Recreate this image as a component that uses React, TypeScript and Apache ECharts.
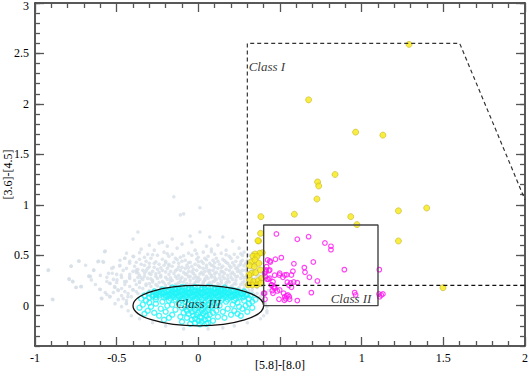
import React, { useEffect, useRef } from "react";
import * as echarts from "echarts";

const xTickLabels = ["-1", "-0.5", "0", "", "1", "1.5", "2"];
const yMajorTicks = [0, 0.5, 1, 1.5, 2, 2.5, 3];
const xAxisTitle = "[5.8]-[8.0]";
const yAxisTitle = "[3.6]-[4.5]";

const greyPoints: number[][] = [
  [-0.15,1.08],[0.01,0.97],[-0.11,0.90],[-0.09,0.91],[-0.37,0.73],[0.01,0.73],[0.07,0.68],[0.15,0.68],[-0.05,0.69],[-0.40,0.66],[-0.16,0.66],[-0.04,0.63],[-0.24,0.62],[-0.22,0.63],[0.21,0.64],[-0.30,0.60],[-0.10,0.61],[0.05,0.59],[0.12,0.60],[-0.19,0.59],
  [-0.57,0.54],[-0.35,0.56],[-0.27,0.55],[-0.13,0.57],[-0.02,0.55],[0.08,0.56],[0.17,0.55],[0.25,0.57],
  [-0.44,0.52],[-0.31,0.51],[-0.21,0.53],[-0.16,0.51],[-0.06,0.52],[0.03,0.53],[0.10,0.51],[0.14,0.52],[0.22,0.51],[0.28,0.53],
  [-0.40,0.49],[-0.33,0.48],[-0.25,0.50],[-0.18,0.49],[-0.11,0.48],[-0.04,0.50],[0.00,0.48],[0.06,0.49],[0.11,0.47],[0.19,0.49],[0.24,0.48],[0.31,0.50],
  [-0.45,0.47],[-0.36,0.46],[-0.29,0.47],[-0.22,0.46],[-0.14,0.47],[-0.08,0.45],[-0.01,0.46],[0.04,0.47],[0.09,0.45],[0.15,0.46],[0.20,0.47],[0.27,0.45],[0.33,0.46],
  [-0.73,0.44],[-0.61,0.44],[-0.58,0.43],[-0.42,0.44],[-0.38,0.43],[-0.32,0.44],[-0.27,0.42],[-0.20,0.44],[-0.15,0.43],[-0.10,0.44],[-0.05,0.43],[0.02,0.44],[0.07,0.42],[0.12,0.44],[0.17,0.43],[0.23,0.44],[0.29,0.42],
  [-0.35,0.41],[-0.30,0.42],[-0.24,0.41],[-0.18,0.41],[-0.12,0.42],[-0.07,0.40],[-0.02,0.41],[0.03,0.42],[0.08,0.40],[0.13,0.41],[0.18,0.42],[0.22,0.40],[0.26,0.41],[0.32,0.42],
  [-0.78,0.39],[-0.48,0.40],[-0.39,0.39],[-0.33,0.40],[-0.27,0.38],[-0.21,0.40],[-0.16,0.39],[-0.10,0.38],[-0.04,0.39],[0.01,0.38],[0.05,0.40],[0.10,0.38],[0.15,0.39],[0.20,0.38],[0.25,0.40],[0.30,0.38],[0.35,0.39],
  [-0.53,0.37],[-0.44,0.37],[-0.37,0.36],[-0.31,0.37],[-0.25,0.36],[-0.19,0.37],[-0.13,0.36],[-0.08,0.37],[-0.03,0.36],[0.03,0.37],[0.07,0.35],[0.12,0.37],[0.17,0.36],[0.23,0.37],[0.27,0.35],[0.33,0.36],
  [-0.92,0.35],[-0.64,0.35],[-0.46,0.35],[-0.40,0.34],[-0.34,0.35],[-0.28,0.34],[-0.22,0.35],[-0.17,0.34],[-0.11,0.35],[-0.06,0.34],[-0.01,0.35],[0.04,0.34],[0.09,0.35],[0.14,0.34],[0.19,0.35],[0.24,0.34],[0.29,0.35],[0.34,0.34],
  [-0.38,0.33],[-0.30,0.32],[-0.24,0.33],[-0.15,0.32],[-0.09,0.33],[-0.03,0.32],[0.02,0.33],[0.07,0.32],[0.11,0.33],[0.16,0.32],[0.21,0.33],[0.26,0.32],[0.31,0.33],
  [-0.55,0.32],[-0.50,0.31],[-0.42,0.31],[-0.36,0.30],[-0.29,0.31],[-0.23,0.30],[-0.18,0.31],[-0.12,0.30],[-0.07,0.31],[-0.02,0.30],[0.03,0.31],[0.08,0.30],[0.13,0.31],[0.18,0.30],[0.22,0.31],[0.27,0.30],[0.32,0.31],[0.36,0.30],
  [-0.33,0.29],[-0.26,0.29],[-0.20,0.28],[-0.14,0.29],[-0.10,0.28],[-0.05,0.29],[0.00,0.28],[0.05,0.29],[0.10,0.28],[0.15,0.29],[0.20,0.28],[0.24,0.29],[0.29,0.28],
  [-0.67,0.29],[-0.47,0.28],[-0.42,0.27],[-0.37,0.28],[-0.31,0.27],[-0.25,0.27],[-0.19,0.26],[-0.13,0.27],[-0.08,0.26],[-0.03,0.27],[0.01,0.26],[0.06,0.27],[0.11,0.26],[0.16,0.27],[0.21,0.26],[0.26,0.27],[0.30,0.26],[0.35,0.27],
  [-0.52,0.26],[-0.39,0.25],[-0.34,0.26],[-0.28,0.25],[-0.22,0.24],[-0.16,0.25],[-0.11,0.24],[-0.05,0.25],[0.00,0.24],[0.04,0.25],[0.09,0.24],[0.14,0.25],[0.18,0.24],[0.23,0.25],[0.28,0.24],[0.33,0.25],
  [-0.79,0.26],[-0.56,0.24],[-0.50,0.23],[-0.44,0.24],[-0.36,0.23],[-0.30,0.22],[-0.24,0.23],[-0.18,0.22],[-0.12,0.23],[-0.07,0.22],[-0.02,0.23],[0.03,0.22],[0.07,0.23],[0.12,0.22],[0.17,0.23],[0.22,0.22],[0.27,0.23],[0.31,0.22],[0.36,0.23],
  [-0.77,0.24],[-0.66,0.29],[-0.54,0.22],[-0.45,0.21],[-0.38,0.21],[-0.32,0.20],[-0.26,0.21],[-0.20,0.20],[-0.14,0.21],[-0.08,0.20],[-0.03,0.21],[0.02,0.20],[0.08,0.21],[0.13,0.20],[0.17,0.21],[0.21,0.20],[0.26,0.21],[0.31,0.20],[0.35,0.21],
  [-0.42,0.19],[-0.36,0.18],[-0.29,0.19],[-0.23,0.18],[-0.17,0.19],[-0.11,0.19],[0.11,0.19],[0.16,0.18],[0.20,0.19],[0.25,0.18],[0.30,0.19],
  [-0.72,0.19],[-0.51,0.18],[-0.47,0.17],[-0.40,0.16],[-0.34,0.17],[-0.27,0.16],[0.24,0.16],[0.28,0.17],[0.33,0.16],[0.36,0.18],
  [-0.75,0.18],[-0.60,0.16],[-0.49,0.15],[-0.45,0.14],[-0.38,0.14],[-0.30,0.15],[0.29,0.14],[0.33,0.13],[0.31,0.15],
  [-0.52,0.13],[-0.43,0.12],[-0.37,0.12],[0.36,0.12],[0.34,0.11],[0.39,0.11],
  [-0.56,0.11],[-0.47,0.10],[-0.41,0.09],[0.38,0.09],
  [-0.54,0.09],[-0.46,0.07],[-0.59,0.07],[-0.49,0.06],[-0.89,0.06],[-0.44,0.05],
  [-0.44,0.02],[-0.51,0.02],[0.41,0.02],[-0.47,-0.01],[0.42,-0.01],[-0.43,-0.05],[0.42,-0.05],[0.42,-0.07],[-0.41,-0.10],[0.40,-0.10],[-0.36,-0.13],[0.38,-0.13],[-0.28,-0.17],[0.30,-0.17],[-0.20,-0.20],[0.22,-0.20],[-0.09,-0.23],[0.06,-0.23],[0.15,-0.22],
  [-0.615,0.436],[-0.584,0.436],[-0.641,0.354],[-0.67,0.294],[-0.655,0.255],[-0.604,0.162],[-0.594,0.073],[-0.543,0.089],[-0.527,0.321],[-0.56,0.281],[-0.543,0.222],[-0.513,0.188],[-0.482,0.393],[-0.451,0.47],[-0.421,0.42],[-0.396,0.486],[-0.421,0.287],[-0.472,0.304],[-0.451,0.238],[-0.492,0.156],[-0.498,0.255],[-0.38,0.354],[-0.36,0.238],[-0.329,0.321],[-0.4,0.156],[-0.431,0.089],[-0.441,0.024],[-0.768,0.238],[-0.747,0.182],[-0.716,0.188],[-0.894,0.063],[-0.778,0.393],[-0.792,0.265],[-0.917,0.354],[-0.733,0.443],[-0.574,0.535],
  [0.30,0.45],[0.34,0.41],[0.37,0.30],[0.38,0.25],[0.36,0.47],[0.40,0.33],[0.38,0.42],[0.27,0.50],[0.33,0.52],[0.39,0.20],[0.43,0.15],[0.41,0.28],
  [-0.32,0.215],[-0.28,0.235],[-0.25,0.195],[-0.21,0.225],[-0.17,0.245],[-0.13,0.215],[-0.09,0.235],[-0.05,0.215],[-0.01,0.245],[0.03,0.235],[0.06,0.215],[0.10,0.245],[0.14,0.225],[0.19,0.235],[0.23,0.215],[0.28,0.205],[0.33,0.225],
  [-0.35,0.275],[-0.29,0.265],[-0.23,0.285],[-0.17,0.275],[-0.11,0.265],[-0.06,0.285],[-0.01,0.275],[0.04,0.265],[0.08,0.285],[0.13,0.275],[0.18,0.265],[0.23,0.285],[0.28,0.275],[0.33,0.265],
  [-0.37,0.325],[-0.32,0.345],[-0.26,0.315],[-0.20,0.335],[-0.14,0.345],[-0.08,0.315],[-0.04,0.335],[0.01,0.315],[0.06,0.345],[0.10,0.315],[0.15,0.335],[0.20,0.315],[0.25,0.345],[0.30,0.325],
  [-0.30,0.385],[-0.23,0.375],[-0.18,0.395],[-0.12,0.385],[-0.06,0.375],[0.00,0.395],[0.05,0.375],[0.09,0.395],[0.14,0.375],[0.19,0.395],[0.24,0.375],[0.28,0.395],
  [-0.26,0.435],[-0.20,0.425],[-0.13,0.455],[-0.06,0.425],[0.00,0.435],[0.05,0.455],[0.10,0.425],[0.16,0.445],[0.21,0.425],[0.26,0.435],
  [-0.28,0.505],[-0.19,0.515],[-0.09,0.495],[-0.01,0.515],[0.08,0.535],[0.17,0.505],[0.26,0.515],[-0.36,0.525],[-0.48,0.45],[-0.52,0.38],[-0.60,0.30],[-0.63,0.21],[-0.57,0.13],[-0.69,0.40]
];

const cyanPoints: number[][] = [
  [-0.16,0.18],[-0.12,0.17],[-0.08,0.18],[-0.04,0.17],[0.00,0.18],[0.04,0.17],[0.08,0.18],[0.12,0.17],[0.16,0.18],
  [-0.22,0.16],[-0.18,0.15],[-0.14,0.16],[-0.10,0.15],[-0.06,0.16],[-0.02,0.15],[0.02,0.16],[0.06,0.15],[0.10,0.16],[0.14,0.15],[0.18,0.16],[0.22,0.15],
  [-0.27,0.14],[-0.23,0.13],[-0.19,0.14],[-0.15,0.13],[-0.11,0.14],[-0.07,0.13],[-0.03,0.14],[0.01,0.13],[0.05,0.14],[0.09,0.13],[0.13,0.14],[0.17,0.13],[0.21,0.14],[0.25,0.13],[0.28,0.14],
  [-0.30,0.12],[-0.26,0.11],[-0.22,0.12],[-0.18,0.11],[-0.14,0.12],[-0.10,0.11],[-0.06,0.12],[-0.02,0.11],[0.02,0.12],[0.06,0.11],[0.10,0.12],[0.14,0.11],[0.18,0.12],[0.22,0.11],[0.26,0.12],[0.30,0.11],
  [-0.33,0.10],[-0.28,0.09],[-0.24,0.10],[-0.20,0.09],[-0.16,0.10],[-0.12,0.09],[-0.08,0.10],[-0.04,0.09],[0.00,0.10],[0.04,0.09],[0.08,0.10],[0.12,0.09],[0.16,0.10],[0.20,0.09],[0.24,0.10],[0.28,0.09],[0.32,0.10],
  [-0.35,0.07],[-0.30,0.08],[-0.21,0.08],[-0.17,0.07],[-0.13,0.08],[-0.09,0.07],[-0.05,0.08],[-0.01,0.07],[0.03,0.08],[0.07,0.07],[0.11,0.08],[0.15,0.07],[0.19,0.08],[0.23,0.07],[0.27,0.08],[0.31,0.07],[0.35,0.06],
  [-0.32,0.05],[-0.26,0.06],[-0.18,0.05],[-0.14,0.06],[-0.10,0.05],[-0.06,0.06],[-0.02,0.05],[0.02,0.06],[0.06,0.05],[0.10,0.06],[0.14,0.05],[0.18,0.06],[0.22,0.05],[0.28,0.05],[0.33,0.04],
  [-0.14,0.175],[-0.10,0.185],[-0.06,0.175],[-0.02,0.185],[0.02,0.175],[0.06,0.185],[0.10,0.175],[0.14,0.165],
  [-0.20,0.155],[-0.16,0.145],[-0.12,0.155],[-0.08,0.145],[-0.04,0.155],[0.00,0.145],[0.04,0.155],[0.08,0.145],[0.12,0.155],[0.16,0.145],[0.20,0.155],[0.24,0.145],
  [-0.25,0.125],[-0.21,0.135],[-0.17,0.125],[-0.13,0.135],[-0.09,0.125],[-0.05,0.135],[-0.01,0.125],[0.03,0.135],[0.07,0.125],[0.11,0.135],[0.15,0.125],[0.19,0.135],[0.23,0.125],[0.27,0.115],
  [-0.28,0.105],[-0.24,0.115],[-0.20,0.105],[-0.16,0.115],[-0.12,0.105],[-0.08,0.115],[-0.04,0.105],[0.00,0.115],[0.04,0.105],[0.08,0.115],[0.12,0.105],[0.16,0.115],[0.20,0.105],[0.24,0.115],[0.29,0.105],
  [-0.26,0.085],[-0.19,0.09],[-0.15,0.085],[-0.11,0.09],[-0.07,0.085],[-0.03,0.09],[0.01,0.085],[0.05,0.09],[0.09,0.085],[0.13,0.09],[0.17,0.085],[0.21,0.09],[0.25,0.085],
  [-0.30,0.03],[-0.22,0.04],[-0.12,0.03],[-0.08,0.04],[-0.04,0.03],[0.00,0.04],[0.04,0.03],[0.08,0.04],[0.12,0.03],[0.17,0.04],[0.24,0.03],[0.31,0.02],
  [-0.34,0.01],[-0.26,0.02],[-0.16,0.01],[-0.06,0.02],[-0.02,0.01],[0.02,0.02],[0.06,0.01],[0.10,0.02],[0.21,0.01],[0.29,0.00],
  [-0.29,-0.01],[-0.19,0.00],[-0.08,-0.01],[-0.04,0.00],[0.00,-0.01],[0.04,0.00],[0.08,-0.01],[0.13,0.00],[0.25,-0.01],[0.33,-0.02],
  [-0.36,-0.02],[-0.23,-0.03],[-0.10,-0.02],[-0.05,-0.03],[-0.01,-0.02],[0.03,-0.03],[0.07,-0.02],[0.18,-0.03],[0.27,-0.03],
  [-0.31,-0.05],[-0.14,-0.04],[-0.07,-0.05],[-0.02,-0.04],[0.02,-0.05],[0.06,-0.04],[0.11,-0.05],[0.22,-0.05],[0.30,-0.06],
  [-0.27,-0.07],[-0.20,-0.06],[-0.09,-0.07],[-0.04,-0.06],[0.00,-0.07],[0.04,-0.06],[0.09,-0.07],[0.15,-0.06],[0.24,-0.08],
  [-0.33,-0.08],[-0.16,-0.09],[-0.06,-0.08],[-0.01,-0.09],[0.03,-0.08],[0.07,-0.09],[0.20,-0.09],
  [-0.24,-0.10],[-0.11,-0.11],[-0.03,-0.10],[0.01,-0.11],[0.05,-0.10],[0.12,-0.11],[0.26,-0.10],
  [-0.18,-0.12],[-0.07,-0.12],[-0.02,-0.13],[0.02,-0.12],[0.06,-0.13],[0.16,-0.12],
  [-0.21,-0.14],[-0.04,-0.14],[0.00,-0.15],[0.04,-0.14],[0.09,-0.15],
  [-0.10,-0.16],[-0.02,-0.17],[0.02,-0.16],[0.06,-0.17],
  [-0.05,-0.18],[0.01,-0.185],[0.05,-0.18]
];

const yellowPoints: number[][] = [
  [1.29,2.59],[0.675,2.04],[0.963,1.72],[1.13,1.69],[0.837,1.30],[0.73,1.226],[0.737,1.186],[0.726,1.057],
  [0.383,0.882],[0.588,0.906],[0.933,0.882],[0.971,0.803],[1.225,0.94],[1.225,0.641],[1.398,0.968],[1.498,0.178],
  [0.381,0.717],[0.369,0.641],[0.365,0.644],[0.392,0.525],[0.375,0.519],[0.347,0.512],[0.335,0.49],[0.359,0.486],
  [0.326,0.436],[0.347,0.453],[0.314,0.396],[0.343,0.387],[0.371,0.42],[0.325,0.32],[0.351,0.327],[0.38,0.354],
  [0.314,0.255],[0.339,0.238],[0.367,0.248],[0.388,0.272],[0.331,0.205],[0.359,0.205],[0.383,0.222],[0.306,0.205],[0.31,0.304]
];

const magentaPoints: number[][] = [
  [0.478,0.711],[0.606,0.658],[0.675,0.684],[0.775,0.621],[0.812,0.588],[0.812,0.555],[0.508,0.476],[0.472,0.46],
  [0.438,0.443],[0.585,0.416],[0.704,0.433],[0.418,0.387],[0.437,0.354],[0.412,0.337],[0.649,0.377],[0.653,0.331],
  [0.579,0.341],[0.57,0.304],[0.894,0.357],[1.108,0.357],[0.467,0.301],[0.496,0.304],[0.518,0.281],[0.541,0.307],
  [0.68,0.281],[0.729,0.245],[0.41,0.288],[0.429,0.262],[0.545,0.232],[0.565,0.225],[0.584,0.235],[0.606,0.228],
  [0.555,0.202],[0.57,0.182],[0.449,0.205],[0.461,0.182],[0.469,0.172],[0.453,0.149],[0.406,0.123],[0.457,0.123],
  [0.484,0.146],[0.522,0.123],[0.541,0.099],[0.557,0.089],[0.494,0.063],[0.535,0.069],[0.527,0.053],[0.606,0.05],
  [0.692,0.129],[0.957,0.129],[0.963,0.106],[1.106,0.116],[1.12,0.106],[1.11,0.089],[1.13,0.116],
  [0.441,0.433],[0.424,0.453],[0.416,0.354],[0.432,0.347],[0.406,0.321],[0.437,0.272],[0.421,0.262],[0.457,0.238],
  [0.447,0.205],[0.467,0.188],[0.498,0.321],[0.529,0.304],[0.498,0.156],[0.549,0.106],[0.4,0.123],[0.408,0.063],
  [0.559,0.063],[0.529,0.089]
];

const classOneBoundary: number[][] = [[0.3, 0.2], [0.3, 2.6], [1.6, 2.6], [2.0, 1.05]];
const classOneFloor: number[][] = [[0.3, 0.2], [2.0, 0.2]];
const classTwoBox: number[][] = [[0.4, 0], [0.4, 0.8], [1.1, 0.8], [1.1, 0], [0.4, 0]];
const classThreeEllipse: number[][] = [[0, 0, 0.4, 0.2]];
const classLabels = [
  { name: "Class I", value: [0.308, 2.37], pos: "right" },
  { name: "Class II", value: [0.81, 0.075], pos: "right" },
  { name: "Class III", value: [0.0, 0.02], pos: "inside" },
];

const SERIF = "'Liberation Serif', 'DejaVu Serif', serif";
const AXIS_COLOR = "#222";
const TICK_COLOR = "#555";

export default function App() {
  const ref = useRef<HTMLDivElement>(null);
  useEffect(() => {
    if (!ref.current) return;
    const chart = echarts.init(ref.current, null, { renderer: "svg" });
    const tickStyle = { color: TICK_COLOR, width: 1.3 };
    const baseX = {
      type: "value",
      min: -1,
      max: 2,
      interval: 0.5,
      axisLine: { show: true, onZero: false, lineStyle: { color: AXIS_COLOR, width: 1.5 } },
      axisTick: { show: true, inside: true, length: 9, lineStyle: tickStyle },
      minorTick: { show: true, splitNumber: 5, length: 5, lineStyle: tickStyle },
      splitLine: { show: false },
      minorSplitLine: { show: false },
    };
    const baseY = {
      type: "value",
      min: -0.4,
      max: 3,
      interval: 0.1,
      splitLine: { show: false },
    };
    chart.setOption({
      animation: false,
      backgroundColor: "#fff",
      grid: { left: 35, right: 4, top: 3, bottom: 29, containLabel: false, outerBoundsMode: "none" },
      graphic: [
        {
          type: "text",
          x: 280,
          y: 365,
          silent: true,
          style: {
            text: xAxisTitle,
            fill: "#000",
            fontFamily: SERIF,
            fontSize: 12,
            align: "center",
            verticalAlign: "middle",
          },
        },
      ],
      xAxis: [
        {
          ...baseX,
          position: "bottom",
          axisLabel: {
            show: true,
            color: "#000",
            fontFamily: SERIF,
            fontSize: 12,
            margin: 6,
            formatter: (v: number) => xTickLabels[Math.round((v + 1) * 2)] ?? "",
          },
        },
        { ...baseX, position: "top", axisLabel: { show: false } },
      ],
      yAxis: [
        {
          ...baseY,
          position: "left",
          axisLine: { show: true, onZero: false, lineStyle: { color: AXIS_COLOR, width: 1.5 } },
          axisTick: { show: true, inside: true, length: 5, lineStyle: tickStyle },
          axisLabel: {
            show: true,
            customValues: yMajorTicks,
            color: "#000",
            fontFamily: SERIF,
            fontSize: 12,
            margin: 6,
            formatter: (v: number) => {
              const s = String(Math.round(v * 10) / 10);
              return v >= 2.95 ? "{edge|" + s + "}" : s;
            },
            rich: {
              edge: { fontFamily: SERIF, fontSize: 12, color: "#000", padding: [5, 0, 0, 0] },
            },
          },
          name: yAxisTitle,
          nameLocation: "middle",
          nameGap: 21,
          nameMoveOverlap: false,
          nameTextStyle: { color: "#000", fontFamily: SERIF, fontSize: 12 },
        },
        {
          ...baseY,
          position: "left",
          axisLine: { show: false, onZero: false },
          axisTick: { show: true, inside: true, length: 9, customValues: yMajorTicks, lineStyle: tickStyle },
          axisLabel: { show: false },
        },
        {
          ...baseY,
          position: "right",
          axisLine: { show: true, onZero: false, lineStyle: { color: AXIS_COLOR, width: 1.5 } },
          axisTick: { show: true, inside: true, length: 5, lineStyle: tickStyle },
          axisLabel: { show: false },
        },
        {
          ...baseY,
          position: "right",
          axisLine: { show: false, onZero: false },
          axisTick: { show: true, inside: true, length: 9, customValues: yMajorTicks, lineStyle: tickStyle },
          axisLabel: { show: false },
        },
      ],
      series: [
        {
          type: "scatter",
          data: greyPoints,
          symbol: "circle",
          symbolSize: 3.6,
          itemStyle: { color: "#d6dee7" },
          silent: true,
          z: 1,
        },
        {
          type: "scatter",
          data: cyanPoints,
          symbol: "circle",
          symbolSize: 5,
          itemStyle: { color: "rgba(255,255,255,0)", borderColor: "#1ff4f8", borderWidth: 1.4 },
          silent: true,
          z: 2,
        },
        {
          type: "custom",
          data: classThreeEllipse,
          encode: { x: 0, y: 1 },
          silent: true,
          z: 3,
          renderItem: (_params: any, api: any) => {
            const c = api.coord([api.value(0), api.value(1)]);
            const s = api.size([api.value(2), api.value(3)]);
            return {
              type: "ellipse",
              shape: { cx: c[0], cy: c[1], rx: s[0], ry: s[1] },
              style: { fill: "none", stroke: "#111", lineWidth: 1.3 },
            };
          },
        },
        {
          type: "scatter",
          data: yellowPoints,
          symbol: "circle",
          symbolSize: 6,
          itemStyle: { color: "#f6ea12", borderColor: "#c9b52a", borderWidth: 0.8 },
          silent: true,
          z: 4,
        },
        {
          type: "scatter",
          data: magentaPoints,
          symbol: "circle",
          symbolSize: 4.6,
          itemStyle: { color: "rgba(255,255,255,0)", borderColor: "#ff16f0", borderWidth: 1.2 },
          silent: true,
          z: 5,
        },
        {
          type: "line",
          data: classOneBoundary,
          showSymbol: false,
          symbol: "none",
          lineStyle: { color: "#333", width: 1.2, type: [4, 3] },
          silent: true,
          z: 6,
        },
        {
          type: "line",
          data: classOneFloor,
          showSymbol: false,
          symbol: "none",
          lineStyle: { color: "#111", width: 1.2, type: [4, 3] },
          silent: true,
          z: 6,
        },
        {
          type: "line",
          data: classTwoBox,
          showSymbol: false,
          symbol: "none",
          lineStyle: { color: "#444", width: 1.4 },
          silent: true,
          z: 6,
        },
        {
          type: "scatter",
          symbolSize: 0,
          silent: true,
          z: 7,
          data: classLabels.map((d) => ({
            name: d.name,
            value: d.value,
            label: { show: true, position: d.pos, distance: 0, formatter: d.name },
          })),
          label: { color: "#000", fontFamily: SERIF, fontSize: 13, fontStyle: "italic" },
        },
      ],
    });
    return () => chart.dispose();
  }, []);
  return (
    <div
      ref={ref}
      style={{ position: "fixed", left: 0, top: 0, width: 529, height: 375, background: "#fff" }}
    />
  );
}
